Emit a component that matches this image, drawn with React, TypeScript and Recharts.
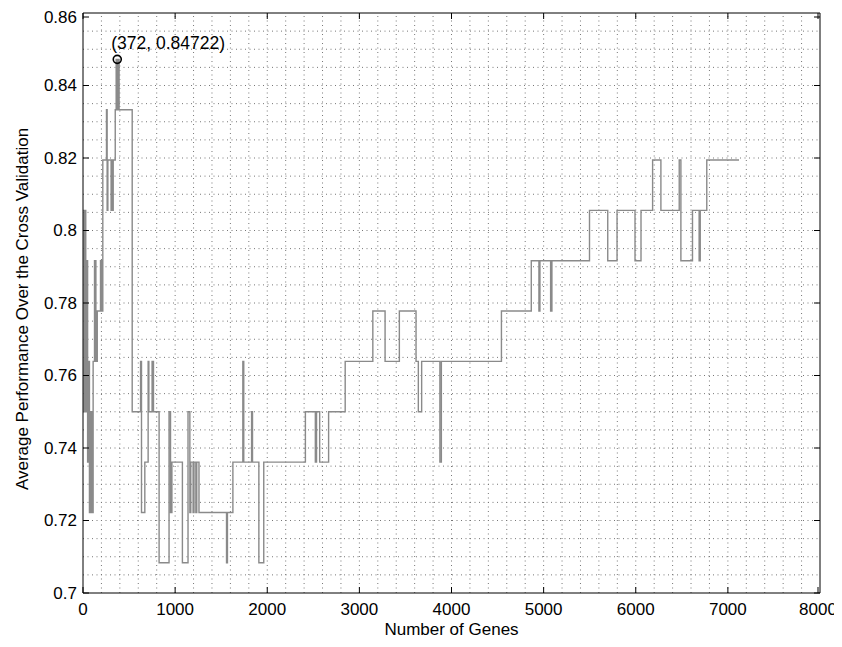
import React from 'react';
import { LineChart, Line, XAxis, YAxis, ReferenceLine, ReferenceDot, Label } from 'recharts';

// ---- data ----
const genes = [
  0, 10, 20, 30, 40, 50, 60, 70, 85, 95, 110, 125, 140, 155, 190, 200, 215, 255, 262, 270,
  305, 312, 320, 328, 350, 360, 368, 372, 380, 385, 392, 534, 625, 635, 671, 707, 715, 750,
  765, 826, 934, 950, 965, 1079, 1140, 1160, 1170, 1195, 1205, 1225, 1235, 1259, 1558, 1568,
  1627, 1735, 1745, 1830, 1840, 1909, 1962, 2414, 2522, 2535, 2569, 2666, 2846, 3146, 3279,
  3434, 3615, 3640, 3676, 3874, 3890, 4542, 4866, 4949, 4960, 5076, 5090, 5498, 5696, 5797,
  5992, 6057, 6183, 6273, 6472, 6490, 6616, 6688, 6700, 6771, 7121,
];
const performance = [
  0.80556, 0.75, 0.80556, 0.75, 0.79167, 0.73611, 0.76389, 0.72222, 0.75, 0.72222, 0.76389,
  0.79167, 0.76389, 0.77778, 0.79167, 0.77778, 0.81944, 0.83333, 0.80556, 0.81944,
  0.80556, 0.81944, 0.80556, 0.81944, 0.83333, 0.84722, 0.83333, 0.84722, 0.83333, 0.84722,
  0.83333, 0.75, 0.76389, 0.72222, 0.73611, 0.76389, 0.75, 0.76389,
  0.75, 0.70833, 0.75, 0.72222, 0.73611, 0.70833, 0.75, 0.72222, 0.73611, 0.72222, 0.73611,
  0.72222, 0.73611, 0.72222, 0.70833, 0.72222,
  0.73611, 0.76389, 0.73611, 0.75, 0.73611, 0.70833, 0.73611, 0.75, 0.73611, 0.75, 0.73611,
  0.75, 0.76389, 0.77778, 0.76389,
  0.77778, 0.76389, 0.75, 0.76389, 0.73611, 0.76389, 0.77778, 0.79167, 0.77778, 0.79167,
  0.77778, 0.79167, 0.80556, 0.79167, 0.80556,
  0.79167, 0.80556, 0.81944, 0.80556, 0.81944, 0.79167, 0.80556, 0.79167, 0.80556, 0.81944,
  0.81944,
];
const xTicks = [0, 1000, 2000, 3000, 4000, 5000, 6000, 7000, 8000];
const yTicks = [0.7, 0.72, 0.74, 0.76, 0.78, 0.8, 0.82, 0.84, 0.86];
const xGridStep = 200;
const yGridStep = 0.005;
const peak = { genes: 372, performance: 0.84722 };

const xGrid: number[] = [];
for (let g = xGridStep; g < 8000; g += xGridStep) xGrid.push(g);
const yGrid: number[] = [];
for (let i = 1; i < 32; i++) yGrid.push(Number((0.7 + i * yGridStep).toFixed(4)));

const data = genes.map((g, i) => ({ g, v: performance[i] }));

// ---- layout ----
const W = 826;
const H = 631;
const Y_AXIS_W = 75;
const RIGHT = 14;
const TOP = 5;
const X_AXIS_H = 46;
const PLOT_W = W - Y_AXIS_W - RIGHT;
const PLOT_H = H - TOP - X_AXIS_H;
const TICK_LEN = 6;
const Y_TICK_MARGIN = 6;
const X_TICK_MARGIN = 10;
const FONT = '"Liberation Sans", Arial, Helvetica, sans-serif';
const FS = 17;
const FS_NOTE = 17.5;

const css = `html,body{overflow:hidden;} .recharts-surface{overflow:visible;} .recharts-wrapper{overflow:visible;}`;

const fmtY = (v: number) => String(Number(v.toFixed(2)));

const YTick = (props: any) => {
  const { x, y, payload } = props;
  const ax = x + Y_TICK_MARGIN;
  return (
    <g>
      <line x1={ax} x2={ax + TICK_LEN} y1={y} y2={y} stroke="#000" strokeWidth={1} />
      <line x1={ax + PLOT_W - TICK_LEN} x2={ax + PLOT_W} y1={y} y2={y} stroke="#000" strokeWidth={1} />
      <text x={x} y={y} dy="0.35em" textAnchor="end" fontFamily={FONT} fontSize={FS} fill="#000">
        {fmtY(payload.value)}
      </text>
    </g>
  );
};

const XTick = (props: any) => {
  const { x, y, payload } = props;
  const ay = y - X_TICK_MARGIN;
  return (
    <g>
      <line x1={x} x2={x} y1={ay} y2={ay - TICK_LEN} stroke="#000" strokeWidth={1} />
      <line x1={x} x2={x} y1={ay - PLOT_H} y2={ay - PLOT_H + TICK_LEN} stroke="#000" strokeWidth={1} />
      <text x={x} y={y} dy="0.71em" textAnchor="middle" fontFamily={FONT} fontSize={FS} fill="#000">
        {payload.value}
      </text>
    </g>
  );
};

const gridProps = { stroke: '#777', strokeWidth: 1, strokeDasharray: '1 3.5', ifOverflow: 'hidden' as const };

export default function App() {
  return (
    <div style={{ width: W, height: H, overflow: 'visible' }}>
      <style>{css}</style>
      <LineChart
        width={W}
        height={H}
        data={data}
        margin={{ top: TOP, right: RIGHT, bottom: 0, left: 0 }}
      >
        <XAxis
          dataKey="g"
          type="number"
          domain={[0, 8000]}
          ticks={xTicks}
          height={X_AXIS_H}
          tickSize={0}
          tickLine={false}
          tickMargin={X_TICK_MARGIN}
          tick={<XTick />}
          axisLine={{ stroke: '#000', strokeWidth: 1 }}
          allowDataOverflow
        >
          <Label
            content={(p: any) => {
              const vb = p.viewBox;
              return (
                <text x={vb.x + vb.width / 2} y={vb.y + 42} textAnchor="middle" fontFamily={FONT} fontSize={FS} fill="#000">
                  Number of Genes
                </text>
              );
            }}
          />
        </XAxis>
        <YAxis
          type="number"
          domain={[0.7, 0.86]}
          ticks={yTicks}
          width={Y_AXIS_W}
          tickSize={0}
          tickLine={false}
          tickMargin={Y_TICK_MARGIN}
          tick={<YTick />}
          axisLine={{ stroke: '#000', strokeWidth: 1 }}
          allowDataOverflow
        >
          <Label
            content={(p: any) => {
              const vb = p.viewBox;
              const cx = 20;
              const cy = vb.y + vb.height / 2 + 6;
              return (
                <text x={cx} y={cy} transform={`rotate(-90, ${cx}, ${cy})`} textAnchor="middle" fontFamily={FONT} fontSize={FS} fill="#000">
                  Average Performance Over the Cross Validation
                </text>
              );
            }}
          />
        </YAxis>
        {xGrid.map((g) => (
          <ReferenceLine key={'gx' + g} x={g} {...gridProps} />
        ))}
        {yGrid.map((v) => (
          <ReferenceLine key={'gy' + v} y={v} {...gridProps} />
        ))}
        <ReferenceLine y={0.86} stroke="#000" strokeWidth={1} />
        <ReferenceLine x={8000} stroke="#000" strokeWidth={1} />
        <Line
          dataKey="v"
          type="stepAfter"
          stroke="#8a8a8a"
          strokeWidth={1.4}
          dot={false}
          isAnimationActive={false}
        />
        <ReferenceDot
          x={peak.genes}
          y={peak.performance}
          r={4}
          fill="none"
          stroke="#000"
          strokeWidth={1.6}
          label={(p: any) => {
            const vb = p.viewBox;
            return (
              <text x={vb.x - 2} y={vb.y - 6} fontFamily={FONT} fontSize={FS_NOTE} fill="#000">
                {`(${peak.genes}, ${peak.performance})`}
              </text>
            );
          }}
        />
      </LineChart>
    </div>
  );
}
